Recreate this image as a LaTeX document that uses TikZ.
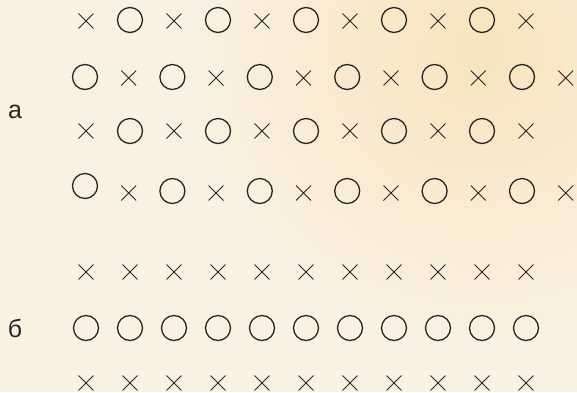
\documentclass[tikz,border=0pt]{standalone}
\usepackage{fontspec}
\setmainfont{Liberation Sans}
\usepackage{tikz}
\usetikzlibrary{
  shapes.misc,
  positioning
}
\definecolor{mkInk}{HTML}{262626}
\definecolor{mkBase}{HTML}{FBF1E3}
\definecolor{mkWarm}{HTML}{F8E4BE}
\tikzset{
  ring/.style={circle, draw=mkInk, line width=1.3pt, minimum size=25pt, inner sep=0pt},
  xmark/.style={cross out, draw=mkInk, line width=0.9pt, minimum size=14pt, inner sep=0pt},
  tag/.style={font=\fontsize{25}{27}\selectfont, text=mkInk, anchor=base}
}

\begin{document}
\begin{tikzpicture}[x=1pt, y=-1pt]
  % background
  \fill[mkBase] (0,0) rectangle (577,392);
  \begin{scope}
    \clip (0,0) rectangle (577,392);
    \shade[inner color=mkWarm, outer color=mkBase] (480,50) circle (300);
  \end{scope}
  \useasboundingbox (0,0) rectangle (577,392);

  % part a: alternating rows
  \foreach \i in {0,...,10}{
    \pgfmathtruncatemacro{\odd}{mod(\i,2)}
    \ifnum\odd=0
      \node[xmark] (a1-\i) at (86+44*\i,21) {};
      \node[xmark] (a3-\i) at (86+44*\i,131) {};
    \else
      \node[ring] (a1-\i) at (86+44*\i,20) {};
      \node[ring] (a3-\i) at (86+44*\i,131) {};
    \fi
  }
  \foreach \i in {0,...,11}{
    \pgfmathtruncatemacro{\odd}{mod(\i,2)}
    \pgfmathsetmacro{\yy}{\i==0 ? 186 : 191}
    \ifnum\odd=0
      \node[ring] (a2-\i) at (85+43.7*\i,77) {};
      \node[ring] (a4-\i) at (85+43.7*\i,\yy) {};
    \else
      \node[xmark] (a2-\i) at (85+43.7*\i,78) {};
      \node[xmark] (a4-\i) at (85+43.7*\i,193) {};
    \fi
  }
  \node[tag] (lbla) at (15,118) {а};

  % part b: ordered rows
  \foreach \i in {0,...,10}{
    \node[xmark] (b1-\i) at (86+44*\i,272) {};
    \node[ring]  (b2-\i) at (86+44*\i,328) {};
    \node[xmark] (b3-\i) at (86+44*\i,383) {};
  }
  \node[tag] (lblb) at (15,337) {б};
\end{tikzpicture}
\end{document}
